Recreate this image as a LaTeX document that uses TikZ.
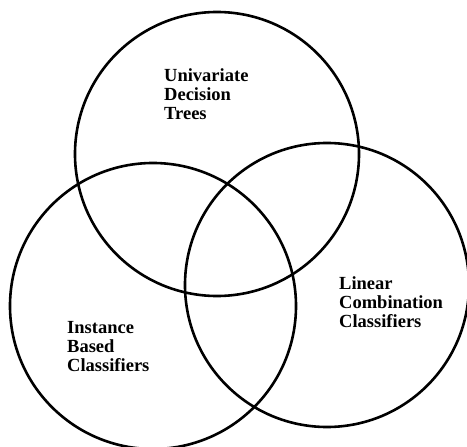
\documentclass[tikz,border=0pt]{standalone}
\usepackage{fontspec}
\setmainfont{Liberation Serif}
\begin{document}
\begin{tikzpicture}[x=1pt,y=-1pt,
  ring/.style={draw=black,line width=2.6pt},
  label/.style={align=left,anchor=base west,inner sep=0pt,
    font=\bfseries\fontsize{18.5}{19}\selectfont}]
\useasboundingbox (0,0) rectangle (467,447);
% the three overlapping families of classifiers
\node[ring,circle,minimum size=284pt,inner sep=0pt] (udt) at (217,154) {};
\node[ring,circle,minimum size=286pt,inner sep=0pt] (ibc) at (153,306) {};
\node[ring,circle,minimum size=284pt,inner sep=0pt] (lcc) at (327,285) {};
% labels (anchored at the baseline of their last line)
\node[label] (tudt) at (164,119) {Univariate\\Decision\\Trees};
\node[label] (tlcc) at (339,327) {Linear\\Combination\\Classifiers};
\node[label] (tibc) at (67,371) {Instance\\Based\\Classifiers};
\end{tikzpicture}
\end{document}
